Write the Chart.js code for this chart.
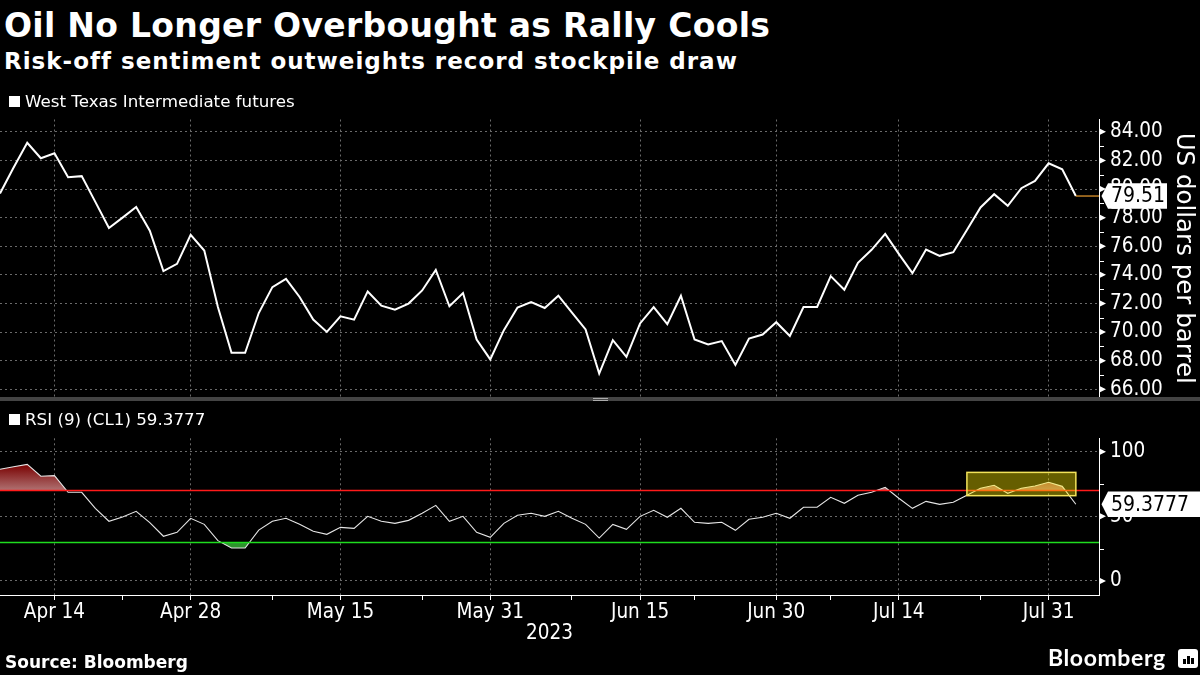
<!DOCTYPE html>
<html>
<head>
<meta charset="utf-8">
<script src="https://cdn.jsdelivr.net/npm/chart.js@4.4.0/dist/chart.umd.min.js"></script>
<style>
  html, body { margin: 0; padding: 0; background: #000; }
  body { width: 1200px; height: 675px; position: relative; overflow: hidden; font-family: "DejaVu Sans", sans-serif; color: #fff; }
  .abs { position: absolute; white-space: nowrap; line-height: 1; z-index: 2; }
  #title { left: 4px; top: 9px; font-size: 33px; font-weight: bold; letter-spacing: 0.3px; }
  #subtitle { left: 4px; top: 50px; font-size: 23px; font-weight: bold; letter-spacing: 1px; }
  .legend { font-size: 16.7px; }
  .legend span { display: inline-block; width: 11px; height: 11px; background: #fff; margin-right: 5px; vertical-align: 0px; }
  #legendTop { left: 9px; top: 93px; }
  #legendBottom { left: 9px; top: 411px; }
  #source { left: 5px; top: 654px; font-size: 17px; font-weight: bold; }
  #brand { left: 1048px; top: 646px; font-family: Lato, "DejaVu Sans", sans-serif; font-size: 23px; font-weight: bold; letter-spacing: 0.6px; }
  #icon { left: 1178px; top: 649px; width: 20px; height: 19px; background: #fff; border-radius: 3px; }
  #icon i { position: absolute; bottom: 4px; width: 2.5px; background: #000; }
  #sep { left: 0; top: 397px; width: 1200px; height: 4px; background: #444; z-index: 2; }
  #handle { left: 593px; top: 398px; width: 15px; height: 1px; border-top: 1px solid #aaa; border-bottom: 1px solid #aaa; z-index: 3; }
  canvas { position: absolute; left: 0; z-index: 1; }
  #priceChart { top: 110px; }
  #rsiChart { top: 400px; }
</style>
</head>
<body>
<div id="title" class="abs">Oil No Longer Overbought as Rally Cools</div>
<div id="subtitle" class="abs">Risk-off sentiment outweights record stockpile draw</div>
<div id="legendTop" class="abs legend"><span></span>West Texas Intermediate futures</div>
<div id="legendBottom" class="abs legend"><span></span>RSI (9) (CL1) 59.3777</div>
<div id="sep" class="abs"></div>
<div id="handle" class="abs"></div>
<div id="source" class="abs">Source: Bloomberg</div>
<div id="brand" class="abs">Bloomberg</div>
<div id="icon" class="abs"><i style="left:5px;height:5px"></i><i style="left:9px;height:8px"></i><i style="left:13px;height:6px"></i></div>

<canvas id="priceChart" width="1200" height="290"></canvas>
<canvas id="rsiChart" width="1200" height="275"></canvas>

<script>
// trading days shown on the chart
const dates = [
  "2023-04-10","2023-04-11","2023-04-12","2023-04-13","2023-04-14","2023-04-17","2023-04-18","2023-04-19","2023-04-20","2023-04-21",
  "2023-04-24","2023-04-25","2023-04-26","2023-04-27","2023-04-28","2023-05-01","2023-05-02","2023-05-03","2023-05-04","2023-05-05",
  "2023-05-08","2023-05-09","2023-05-10","2023-05-11","2023-05-12","2023-05-15","2023-05-16","2023-05-17","2023-05-18","2023-05-19",
  "2023-05-22","2023-05-23","2023-05-24","2023-05-25","2023-05-26","2023-05-30","2023-05-31","2023-06-01","2023-06-02","2023-06-05",
  "2023-06-06","2023-06-07","2023-06-08","2023-06-09","2023-06-12","2023-06-13","2023-06-14","2023-06-15","2023-06-16","2023-06-20",
  "2023-06-21","2023-06-22","2023-06-23","2023-06-26","2023-06-27","2023-06-28","2023-06-29","2023-06-30","2023-07-03","2023-07-05",
  "2023-07-06","2023-07-07","2023-07-10","2023-07-11","2023-07-12","2023-07-13","2023-07-14","2023-07-17","2023-07-18","2023-07-19",
  "2023-07-20","2023-07-21","2023-07-24","2023-07-25","2023-07-26","2023-07-27","2023-07-28","2023-07-31","2023-08-01","2023-08-02"
];

// WTI futures, US dollars per barrel
const wti = [
  79.69, 81.50, 83.23, 82.15, 82.50, 80.83, 80.90, 79.10, 77.28, 78.00,
  78.74, 77.09, 74.26, 74.77, 76.79, 75.70, 71.75, 68.55, 68.55, 71.33,
  73.14, 73.72, 72.45, 70.87, 70.01, 71.10, 70.87, 72.84, 71.85, 71.57,
  71.99, 72.91, 74.35, 71.80, 72.73, 69.48, 68.09, 70.13, 71.71, 72.10,
  71.68, 72.54, 71.36, 70.18, 67.10, 69.43, 68.27, 70.60, 71.75, 70.55,
  72.54, 69.48, 69.13, 69.37, 67.70, 69.55, 69.83, 70.69, 69.73, 71.75,
  71.75, 73.91, 72.96, 74.84, 75.75, 76.86, 75.47, 74.12, 75.77, 75.33,
  75.58, 77.14, 78.71, 79.64, 78.83, 80.06, 80.57, 81.80, 81.38, 79.51
];

// RSI (9)
const rsi = [
  86.4, 88.4, 90.2, 81.0, 81.5, 68.6, 68.6, 56.2, 46.2, 49.5,
  53.9, 45.1, 34.6, 37.6, 48.5, 43.8, 31.2, 25.5, 25.5, 39.4,
  46.2, 48.5, 43.8, 38.4, 36.1, 41.5, 40.7, 50.0, 46.2, 44.6,
  46.9, 52.4, 58.5, 46.2, 50.0, 37.6, 33.8, 44.6, 50.8, 52.4,
  50.0, 53.9, 48.5, 43.8, 33.2, 43.8, 40.0, 50.0, 54.7, 49.3,
  56.2, 45.4, 44.6, 45.4, 39.2, 47.7, 49.3, 52.4, 48.5, 57.0,
  57.0, 64.7, 60.1, 66.3, 68.6, 72.5, 64.0, 56.2, 61.6, 59.3,
  60.9, 66.3, 71.7, 74.0, 67.8, 71.7, 73.5, 76.3, 73.2, 59.3777
];

const majorTickDates = ["2023-04-14","2023-04-28","2023-05-15","2023-05-31","2023-06-15","2023-06-30","2023-07-14","2023-07-31"];
const minorTickDates = ["2023-04-21","2023-05-08","2023-05-23","2023-06-08","2023-06-22","2023-07-07","2023-07-24"];
const priceTicks = [66, 68, 70, 72, 74, 76, 78, 80, 82, 84];
const priceMinorTicks = [67, 69, 71, 73, 75, 77, 79, 81, 83];
const rsiTicks = [0, 50, 100];
const rsiMinorTicks = [25, 75];
const overbought = 70;
const oversold = 30;
const highlightDates = ["2023-07-21", "2023-08-02"];
const highlightLevels = [66, 84];
const yearLabel = "2023";

const monthNames = ["Jan","Feb","Mar","Apr","May","Jun","Jul","Aug","Sep","Oct","Nov","Dec"];
const fmtDate = (d) => monthNames[+d.slice(5, 7) - 1] + " " + (+d.slice(8, 10));

const majorIdx = majorTickDates.map((d) => dates.indexOf(d));
const minorIdx = minorTickDates.map((d) => dates.indexOf(d));
const lastIdx = dates.length - 1;
const xMax = lastIdx + 1.7;

const gridColor = "#6a6a6a";
const tickFont = { family: '"DejaVu Sans Condensed", "DejaVu Sans", sans-serif', size: 20.5, lineHeight: 1 };

// keep the plot area exactly where the axes put it
function noLabelPadding(scale) {
  scale.paddingTop = 0;
  scale.paddingBottom = 0;
  scale.paddingLeft = 0;
  scale.paddingRight = 0;
}

function xAxis(withLabels) {
  return {
    type: "linear",
    min: 0,
    max: xMax,
    afterBuildTicks: (scale) => {
      const idx = withLabels ? majorIdx.concat(minorIdx) : majorIdx;
      scale.ticks = idx.sort((a, b) => a - b).map((v) => ({ value: v }));
    },
    afterFit: (scale) => {
      scale.height = withLabels ? 80 : 0;
      noLabelPadding(scale);
    },
    ticks: {
      display: withLabels,
      autoSkip: false,
      maxRotation: 0,
      color: "#fff",
      font: tickFont,
      padding: 2,
      callback: (v) => (majorIdx.includes(v) ? fmtDate(dates[v]) : ""),
    },
    grid: {
      color: (c) => (c.tick && majorIdx.includes(c.tick.value) ? gridColor : "rgba(0,0,0,0)"),
      drawTicks: withLabels,
      tickLength: 5,
      tickColor: "#fff",
      tickBorderDash: [],
    },
    border: { display: withLabels, color: "#fff", width: 1, dash: [2, 3] },
    title: withLabels
      ? { display: true, text: yearLabel, color: "#fff", font: tickFont, padding: { top: 0, bottom: 31.5 } }
      : { display: false },
  };
}

// tick marks on the right axis, value tag, reference lines
const overlay = {
  id: "overlay",
  afterDatasetsDraw(chart, args, opts) {
    const { ctx, chartArea, scales } = chart;
    ctx.save();
    if (opts.levels) {
      opts.levels.forEach((l) => {
        const py = Math.round(scales.y.getPixelForValue(l.value)) + 0.5;
        ctx.strokeStyle = l.color;
        ctx.lineWidth = 1.5;
        ctx.beginPath();
        ctx.moveTo(chartArea.left, py);
        ctx.lineTo(chartArea.right, py);
        ctx.stroke();
      });
    }
    if (opts.box) {
      const x1 = scales.x.getPixelForValue(dates.indexOf(opts.box.from));
      const x2 = scales.x.getPixelForValue(dates.indexOf(opts.box.to));
      const y1 = scales.y.getPixelForValue(opts.box.high);
      const y2 = scales.y.getPixelForValue(opts.box.low);
      ctx.fillStyle = "rgba(255,235,0,0.40)";
      ctx.fillRect(x1, y1, x2 - x1, y2 - y1);
      ctx.strokeStyle = "#f3e35a";
      ctx.lineWidth = 1.5;
      ctx.strokeRect(x1, y1, x2 - x1, y2 - y1);
    }
    if (opts.lastLine) {
      const py = scales.y.getPixelForValue(opts.tag.value);
      ctx.strokeStyle = "#f0a030";
      ctx.lineWidth = 1.2;
      ctx.beginPath();
      ctx.moveTo(scales.x.getPixelForValue(lastIdx), py);
      ctx.lineTo(chartArea.right, py);
      ctx.stroke();
    }
    ctx.restore();
  },
  afterDraw(chart, args, opts) {
    const { ctx, scales } = chart;
    const y = scales.y;
    const x0 = y.left;
    ctx.save();
    ctx.fillStyle = "#fff";
    ctx.strokeStyle = "#fff";
    ctx.lineWidth = 1;
    opts.major.forEach((v) => {
      const py = y.getPixelForValue(v);
      ctx.beginPath();
      ctx.moveTo(x0, py - 3.5);
      ctx.lineTo(x0 + 7, py);
      ctx.lineTo(x0, py + 3.5);
      ctx.closePath();
      ctx.fill();
    });
    opts.minor.forEach((v) => {
      const py = Math.round(y.getPixelForValue(v)) + 0.5;
      ctx.beginPath();
      ctx.moveTo(x0, py);
      ctx.lineTo(x0 + 5, py);
      ctx.stroke();
    });
    // value tag
    const t = opts.tag;
    const py = y.getPixelForValue(t.value);
    const h = 25.6;
    ctx.fillStyle = "#fff";
    ctx.beginPath();
    ctx.moveTo(x0 + 2.5, py);
    ctx.lineTo(x0 + 9, py - h / 2);
    ctx.lineTo(x0 + t.width, py - h / 2);
    ctx.lineTo(x0 + t.width, py + h / 2);
    ctx.lineTo(x0 + 9, py + h / 2);
    ctx.closePath();
    ctx.fill();
    ctx.fillStyle = "#000";
    ctx.font = "21px " + tickFont.family;
    ctx.textBaseline = "middle";
    ctx.textAlign = "left";
    ctx.fillText(t.text, x0 + 12, py + 1);
    ctx.restore();
  },
};

new Chart(document.getElementById("priceChart"), {
  type: "line",
  data: {
    datasets: [
      {
        label: "West Texas Intermediate futures",
        data: wti.map((v, i) => ({ x: i, y: v })),
        borderColor: "#fff",
        borderWidth: 2,
        pointRadius: 0,
        tension: 0,
        fill: false,
      },
    ],
  },
  options: {
    responsive: false,
    animation: false,
    layout: { padding: { top: 9.5, bottom: 3, left: 0, right: 0 } },
    scales: {
      x: xAxis(false),
      y: {
        position: "right",
        min: 65.46,
        max: 84.86,
        afterBuildTicks: (scale) => {
          scale.ticks = priceTicks.concat(priceMinorTicks).sort((a, b) => a - b).map((v) => ({ value: v }));
        },
        afterFit: (scale) => {
          scale.width = 101;
          noLabelPadding(scale);
        },
        ticks: {
          color: "#fff",
          font: tickFont,
          padding: 11,
          callback: (v) => (priceTicks.includes(v) ? v.toFixed(2) : ""),
        },
        grid: {
          color: (c) => (c.tick && priceTicks.includes(c.tick.value) ? gridColor : "rgba(0,0,0,0)"),
          drawTicks: false,
        },
        border: { display: true, color: "#fff", width: 1, dash: [2, 3] },
        title: {
          display: true,
          text: "US dollars per barrel",
          color: "#fff",
          font: { family: "DejaVu Sans", size: 24.5, lineHeight: 1.2 },
          padding: { top: 2, bottom: 0 },
        },
      },
    },
    plugins: {
      legend: { display: false },
      tooltip: { enabled: false },
      overlay: {
        major: priceTicks,
        minor: priceMinorTicks,
        lastLine: true,
        tag: { value: wti[lastIdx], text: wti[lastIdx].toFixed(2), width: 68 },
      },
    },
  },
  plugins: [overlay],
});

new Chart(document.getElementById("rsiChart"), {
  type: "line",
  data: {
    datasets: [
      {
        label: "RSI (9) (CL1)",
        data: rsi.map((v, i) => ({ x: i, y: v })),
        borderColor: "#e6e6e6",
        borderWidth: 1.1,
        pointRadius: 0,
        tension: 0,
        backgroundColor: (c) => {
          const { chart } = c;
          if (!chart.chartArea) return "rgba(0,0,0,0)";
          const y = chart.scales.y;
          const g = chart.ctx.createLinearGradient(0, y.getPixelForValue(Math.max(...rsi)), 0, y.getPixelForValue(overbought));
          g.addColorStop(0, "#780000");
          g.addColorStop(1, "#b07272");
          return g;
        },
        fill: { target: { value: overbought }, below: "rgba(0,0,0,0)" },
      },
      {
        label: "oversold",
        data: rsi.map((v, i) => ({ x: i, y: v })),
        borderWidth: 0,
        borderColor: "rgba(0,0,0,0)",
        pointRadius: 0,
        tension: 0,
        backgroundColor: "#2d922d",
        fill: { target: { value: oversold }, above: "rgba(0,0,0,0)", below: "#2d922d" },
      },
    ],
  },
  options: {
    responsive: false,
    animation: false,
    layout: { padding: { top: 38.3, bottom: 0, left: 0, right: 0 } },
    scales: {
      x: xAxis(true),
      y: {
        position: "right",
        min: -10.83,
        max: 110.36,
        afterBuildTicks: (scale) => {
          scale.ticks = rsiTicks.concat(rsiMinorTicks).sort((a, b) => a - b).map((v) => ({ value: v }));
        },
        afterFit: (scale) => {
          scale.width = 101;
          noLabelPadding(scale);
        },
        ticks: {
          color: "#fff",
          font: tickFont,
          padding: 11,
          callback: (v) => (rsiTicks.includes(v) ? String(v) : ""),
        },
        grid: {
          color: (c) => (c.tick && rsiTicks.includes(c.tick.value) ? gridColor : "rgba(0,0,0,0)"),
          drawTicks: false,
        },
        border: { display: true, color: "#fff", width: 1, dash: [2, 3] },
      },
    },
    plugins: {
      legend: { display: false },
      tooltip: { enabled: false },
      overlay: {
        major: rsiTicks,
        minor: rsiMinorTicks,
        levels: [
          { value: overbought, color: "#ff1a1a" },
          { value: oversold, color: "#1fdc1f" },
        ],
        box: { from: highlightDates[0], to: highlightDates[1], low: highlightLevels[0], high: highlightLevels[1] },
        tag: { value: rsi[lastIdx], text: rsi[lastIdx].toFixed(4), width: 110 },
      },
    },
  },
  plugins: [overlay],
});
</script>
</body>
</html>
